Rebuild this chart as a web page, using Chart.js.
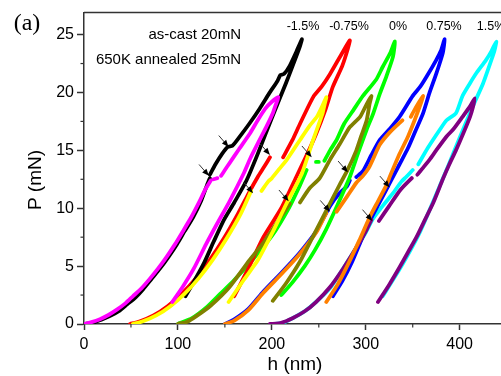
<!DOCTYPE html>
<html>
<head>
<meta charset="utf-8">
<script src="https://cdn.jsdelivr.net/npm/chart.js@4.4.1/dist/chart.umd.min.js"></script>
<style>
html,body{margin:0;padding:0;background:#fff;}
#wrap{width:501px;height:376px;position:relative;}
</style>
</head>
<body>
<div id="wrap"><canvas id="c" width="501" height="376"></canvas></div>
<script>
// ---- data (h in nm, P in mN); null = gap in the curve ----
const strainLabels = ['-1.5%', '-0.75%', '0%', '0.75%', '1.5%'];
const seriesNames = ['as-cast 20mN', '650K annealed 25mN'];
const xTicks = [0, 100, 200, 300, 400];
const yTicks = [0, 5, 10, 15, 20, 25];

const asCastM15 = [[0,0],[10,0.12],[19,0.4],[28,0.7],[37,1.1],[46,1.7],[55,2.3],[63,3.0],[72,3.9],[81,4.8],[90,5.8],[99,6.9],[107,8.0],[116,9.2],[125,10.7],[131,12.0],[134,12.6],null,[134,12.9],[140,13.8],[147,14.7],[153,15.3],[158,15.4],[165,16.1],[176,17.3],[187,18.6],[197,19.9],[206,21.0],[209,21.5],[213,21.6],[219,22.3],[226,23.5],[232,24.6],
  [230,24.0],[225,22.9],[215,20.8],[200,17.8],[185,14.7],[173,12.4],[160,10.5],[149,9.0],[138,7.1],[128,5.3],[118,3.8],[108,2.4]];
const annealedM15 = [[0,0],[8,0.16],[17,0.42],[26,0.78],[35,1.24],[44,1.78],[52,2.39],[61,3.07],[70,3.9],[79,4.8],[88,5.8],[97,6.9],[105,7.97],[114,9.2],[123,10.6],[129,11.6],[135,12.4],null,[138,12.5],[142,12.6],null,[146,12.8],[150,13.3],[155,13.9],[165,15.1],[177,16.5],[185,17.6],[193,18.6],[200,19.2],[207,19.6],
  [204,18.9],[201,18.2],[194,17.0],[187,15.9],[177,14.3],[170,13.0],[155,10.6],[142,8.7],[130,6.9],[117,4.8],[105,3.2],[94,1.9]];
const asCastM075 = [[49,0],[59,0.21],[74,0.74],[89,1.54],[104,2.61],[119,3.94],[134,5.54],[149,7.4],[164,9.53],[176,11.4],[185,12.7],[192,13.6],[198,14.4],null,[212,14.4],[222,15.9],[230,17.3],[244,19.6],[253,20.5],[262,21.6],[272,23.0],[283,24.5],
  [281,23.8],[275,22.3],[265,20.5],[257,18.5],[247,16.4],[236,14.4],[226,12.7],[210,10.0],[191,7.5],[175,4.8],[160,2.4]];
const annealedM075 = [[52,0],[62,0.21],[77,0.74],[92,1.54],[107,2.61],[122,3.94],[137,5.54],[152,7.4],[167,9.53],[178,11.5],null,[189,11.5],[196,12.3],[200,12.6],[208,13.4],[216,14.2],[230,15.9],[240,17.1],[248,17.9],[253,18.7],[258,19.6],
  [256,18.9],[254,18.2],[244,15.9],[232,13.0],[215,10.3],[200,7.8],[185,5.5],[170,3.8],[154,1.9]];
const asCast0 = [[100,0],[115,0.5],[130,1.4],[145,2.6],[160,3.8],[180,5.6],[200,7.6],[218,10.0],[230,12.0],[237,13.3],null,[247,14.0],[250,14.0],null,[256,14.1],[262,15.0],[269,15.9],[277,17.3],[287,18.5],[297,19.7],[311,21.1],[318,22.2],[326,23.4],[331,24.4],
  [329,23.1],[322,21.4],[315,19.9],[308,18.2],[301,16.8],[292,14.8],[283,12.7],[270,10.3],[258,8.2],[246,6.4],[235,5.0],[222,3.6],[210,2.5]];
const annealed0 = [[100,0],[110,0.2],[120,0.7],[135,1.6],[155,3.2],[176,5.5],[191,7.0],[205,8.7],[219,10.4],null,[230,10.5],[240,11.7],[251,12.6],[262,14.2],[272,15.5],[283,17.0],[294,17.9],[301,19.0],[306,19.7],
  [304,19.0],[301,17.6],[295,16.2],[290,15.0],[280,13.2],[272,12.0],[258,9.8],[244,7.6],[230,5.4],[215,3.5],[201,2.0]];
const asCast075 = [[150,0],[160,0.4],[175,1.3],[191,2.8],[210,4.4],[226,5.8],[240,7.2],[248,8.1],[262,10.2],[272,11.3],[280,11.9],[283,12.4],null,[290,12.7],[297,13.2],[306,14.6],[315,15.9],[326,16.9],[336,17.9],[350,19.7],[358,20.5],[365,21.4],[375,22.8],[380,23.6],[384,24.6],
  [382,23.4],[375,21.6],[368,20.0],[361,18.2],[353,16.7],[345,15.2],[336,13.8],[327,12.4],[316,10.7],[305,9.0],[295,7.2],[285,5.3],[275,3.7],[265,2.4]];
const annealed075 = [[150,0],[160,0.3],[175,1.2],[191,2.7],[210,4.3],[226,5.7],[240,7.1],[248,8.0],[258,9.6],null,[269,9.7],[280,11.0],[290,12.2],[297,12.8],[304,13.6],[315,15.5],[326,16.6],[339,17.6],null,[348,17.9],[354,18.8],[361,19.7],
  [358,18.9],[352,17.6],[345,16.2],[336,14.7],[326,12.8],[322,12.0],[313,10.6],[304,9.2],[293,7.2],[282,5.3],[270,3.4],[258,1.9]];
const asCast15 = [[200,0],[212,0.1],[222,0.5],[235,1.1],[247,1.9],[262,3.1],[276,4.8],[290,6.6],[300,7.9],[307,9.0],[318,10.2],[329,11.3],[338,12.3],[343,12.7],[350,13.3],null,[356,13.8],[366,15.2],[379,16.8],[386,17.6],[396,18.2],[403,19.7],[411,20.8],[418,21.7],[428,22.8],[434,23.6],[439,24.4],
  [437,23.6],[435,23.1],[425,20.8],[414,18.8],[400,16.1],[388,13.7],[374,11.0],[358,8.0],[345,6.0],[332,4.2],[318,2.4]];
const annealed15 = [[198,0],[210,0.1],[222,0.5],[235,1.1],[247,1.9],[262,3.2],[276,4.8],[290,6.6],[300,8.0],[306,9.0],null,[314,8.9],[325,10.2],[337,11.6],[349,12.6],null,[355,12.9],[360,13.4],[368,14.2],[375,15.0],[386,16.2],[393,16.8],[403,17.9],[411,18.8],[416,19.5],
  [414,18.7],[411,17.9],[404,16.5],[396,15.0],[389,13.8],[382,12.5],[372,10.5],[363,9.0],[354,7.5],[345,6.2],[336,4.9],[325,3.4],[313,1.9]];

// pop-in arrows: tip position (h, P)
const arrowTips = [[133,12.8],[154,15.3],[180,11.3],[198,14.6],[218,10.6],[242.5,14.4],[262,9.7],[281,13.1],[307,8.9],[325.5,11.8]];

const asCastColors = ['#000000', '#ff0000', '#00ff00', '#0000ff', '#00ffff'];
const annealedColors = ['#ff00ff', '#ffff00', '#808000', '#ff8000', '#800080'];
const asCastSeries = [asCastM15, asCastM075, asCast0, asCast075, asCast15];
const annealedSeries = [annealedM15, annealedM075, annealed0, annealed075, annealed15];

function toPts(arr) {
  const out = [];
  let lastX = 0;
  arr.forEach(p => {
    if (p === null) out.push({x: lastX, y: null});
    else { out.push({x: p[0], y: p[1]}); lastX = p[0]; }
  });
  return out;
}

const datasets = [];
strainLabels.forEach((lab, i) => {
  datasets.push({label: seriesNames[0] + ' ' + lab, data: toPts(asCastSeries[i]), borderColor: asCastColors[i], order: 2});
  datasets.push({label: seriesNames[1] + ' ' + lab, data: toPts(annealedSeries[i]), borderColor: annealedColors[i], order: 1});
});
datasets.forEach(d => {
  d.borderWidth = 3.8; d.pointRadius = 0; d.tension = 0.2; d.spanGaps = false;
  d.borderCapStyle = 'round'; d.borderJoinStyle = 'round'; d.fill = false;
});

const decor = {
  id: 'decor',
  afterDatasetsDraw(chart) {
    const ctx = chart.ctx, ca = chart.chartArea;
    const xs = chart.scales.x, ys = chart.scales.y;
    ctx.save();
    // arrows
    arrowTips.forEach(t => {
      const px = xs.getPixelForValue(t[0]), py = ys.getPixelForValue(t[1]);
      const dx = 1, dy = 1.15, len = Math.hypot(dx, dy), ux = dx / len, uy = dy / len;
      ctx.strokeStyle = '#333'; ctx.lineWidth = 1;
      ctx.beginPath(); ctx.moveTo(px - ux * 15, py - uy * 15); ctx.lineTo(px - ux * 5, py - uy * 5); ctx.stroke();
      ctx.fillStyle = '#000';
      ctx.beginPath();
      ctx.moveTo(px, py);
      ctx.lineTo(px - ux * 7 - uy * 2.8, py - uy * 7 + ux * 2.8);
      ctx.lineTo(px - ux * 7 + uy * 2.8, py - uy * 7 - ux * 2.8);
      ctx.closePath(); ctx.fill();
    });
    // top frame line
    ctx.strokeStyle = '#333'; ctx.lineWidth = 1.5;
    ctx.beginPath(); ctx.moveTo(ca.left, ca.top); ctx.lineTo(ca.right, ca.top); ctx.stroke();
    // minor ticks
    ctx.lineWidth = 1.2;
    for (let v = 50; v < xs.max; v += 100) {
      const p = xs.getPixelForValue(v);
      ctx.beginPath(); ctx.moveTo(p, ca.bottom); ctx.lineTo(p, ca.bottom + 3.5); ctx.stroke();
    }
    for (let v = 2.5; v < ys.max; v += 5) {
      const p = ys.getPixelForValue(v);
      ctx.beginPath(); ctx.moveTo(ca.left, p); ctx.lineTo(ca.left - 3.5, p); ctx.stroke();
    }
    // texts
    ctx.fillStyle = '#000';
    ctx.font = '15px "Liberation Sans", Arial, sans-serif';
    ctx.textBaseline = 'middle'; ctx.textAlign = 'right';
    ctx.fillText(seriesNames[0], 241, 35);
    ctx.fillText(seriesNames[1], 241, 60);
    ctx.font = '12.5px "Liberation Sans", Arial, sans-serif';
    ctx.textAlign = 'center';
    const labX = [303, 349, 398, 444, 491];
    strainLabels.forEach((s, i) => ctx.fillText(s, labX[i], 27));
    ctx.font = '24px "Liberation Serif", "Times New Roman", serif';
    ctx.fillText('(a)', 27, 24);
    ctx.font = '19px "Liberation Sans", Arial, sans-serif';
    ctx.fillText('h (nm)', 295, 365);
    ctx.translate(36, 180); ctx.rotate(-Math.PI / 2);
    ctx.fillText('P (mN)', 0, 0);
    ctx.restore();
  }
};

new Chart(document.getElementById('c'), {
  type: 'line',
  data: {datasets},
  options: {
    responsive: false, animation: false, devicePixelRatio: 1,
    layout: {padding: {top: 12, right: 0, left: 0, bottom: 0}},
    plugins: {legend: {display: false}, tooltip: {enabled: false}},
    scales: {
      x: {
        type: 'linear', min: 0, max: 444,
        afterBuildTicks: s => { s.ticks = xTicks.map(v => ({value: v})); },
        afterFit: s => { s.height = 52; },
        grid: {drawOnChartArea: false, tickLength: 6, tickColor: '#333', tickWidth: 1.5},
        border: {display: true, color: '#333', width: 1.5},
        ticks: {color: '#000', padding: 5, font: {family: '"Liberation Sans", Arial, sans-serif', size: 16}, maxRotation: 0}
      },
      y: {
        type: 'linear', min: 0, max: 26.9,
        afterBuildTicks: s => { s.ticks = yTicks.map(v => ({value: v})); },
        afterFit: s => { s.width = 84; },
        grid: {drawOnChartArea: false, tickLength: 7, tickColor: '#333', tickWidth: 1.5},
        border: {display: true, color: '#333', width: 1.5},
        ticks: {color: '#000', padding: 3, font: {family: '"Liberation Sans", Arial, sans-serif', size: 16}}
      }
    }
  },
  plugins: [decor]
});
</script>
</body>
</html>
